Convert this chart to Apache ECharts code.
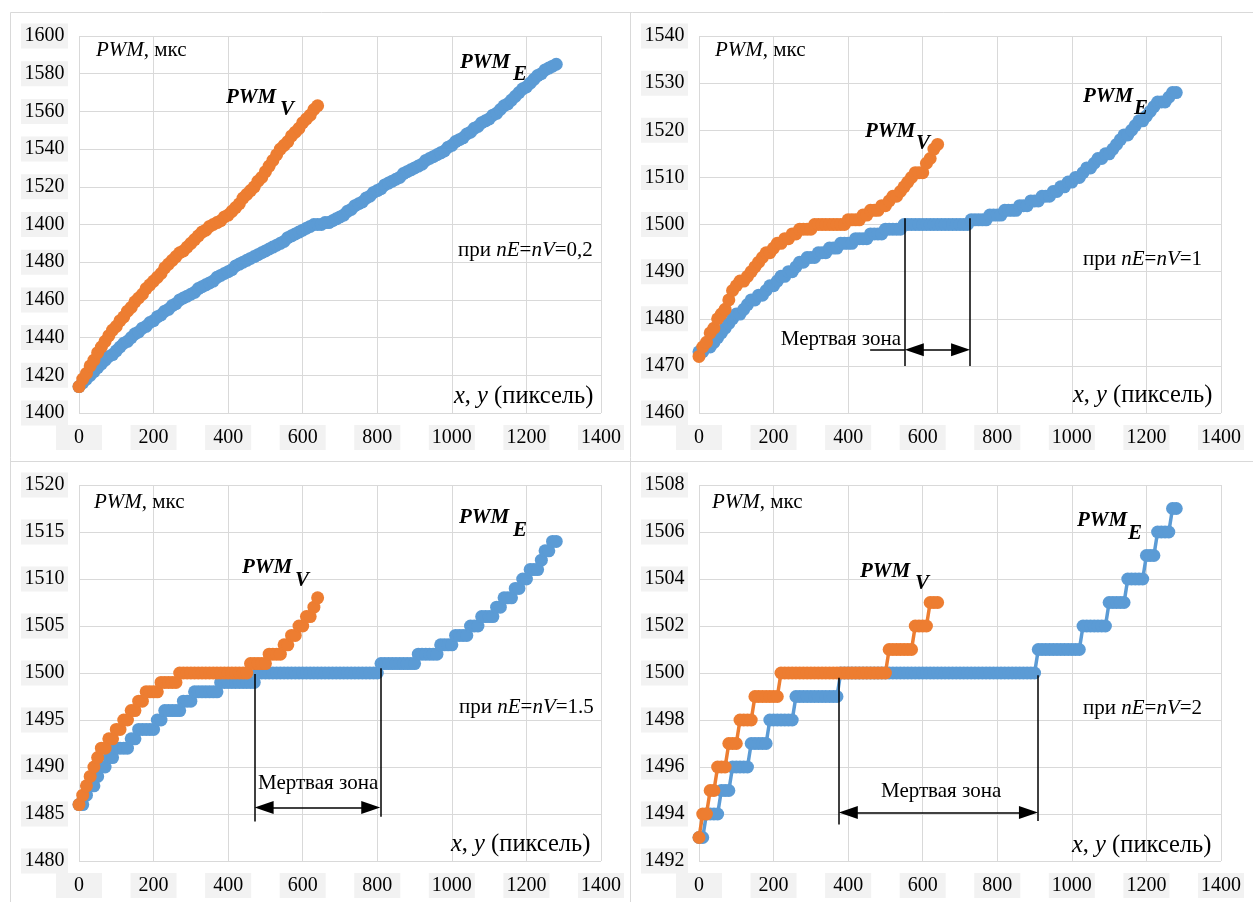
<!DOCTYPE html>
<html><head><meta charset="utf-8">
<script src="https://cdn.jsdelivr.net/npm/echarts/dist/echarts.min.js"></script>
<style>html,body{margin:0;padding:0;background:#fff}#c{width:1253px;height:902px}</style>
</head><body><div id="c"></div><script>
// ---------- sample positions ----------
const xE10 = [0,10,20,30,40,50,60,70,80,90,
100,110,120,130,140,150,160,170,180,190,
200,210,220,230,240,250,260,270,280,290,
300,310,320,330,340,350,360,370,380,390,
400,410,420,430,440,450,460,470,480,490,
500,510,520,530,540,550,560,570,580,590,
600,610,620,630,640,650,660,670,680,690,
700,710,720,730,740,750,760,770,780,790,
800,810,820,830,840,850,860,870,880,890,
900,910,920,930,940,950,960,970,980,990,
1000,1010,1020,1030,1040,1050,1060,1070,1080,1090,
1100,1110,1120,1130,1140,1150,1160,1170,1180,1190,
1200,1210,1220,1230,1240,1250,1260,1270,1280];
const xV10 = [0,10,20,30,40,50,60,70,80,90,
100,110,120,130,140,150,160,170,180,190,
200,210,220,230,240,250,260,270,280,290,
300,310,320,330,340,350,360,370,380,390,
400,410,420,430,440,450,460,470,480,490,
500,510,520,530,540,550,560,570,580,590,
600,610,620,630,640];

// ---------- panel 1: nE=nV=0,2 ----------
const pwmE1 = [1414,1416,1418,1420,1422,1424,1426,1428,1430,1431,
1433,1435,1437,1438,1440,1442,1443,1445,1446,1448,
1449,1451,1452,1454,1455,1457,1458,1460,1461,1462,
1463,1464,1466,1467,1468,1469,1470,1472,1473,1474,
1475,1476,1478,1479,1480,1481,1482,1483,1484,1485,
1486,1487,1488,1489,1490,1491,1493,1494,1495,1496,
1497,1498,1499,1500,1500,1500,1501,1501,1502,1503,
1504,1505,1507,1508,1510,1511,1512,1514,1515,1517,
1518,1519,1521,1522,1523,1524,1525,1527,1528,1529,
1530,1531,1532,1534,1535,1536,1537,1538,1539,1541,
1542,1544,1545,1546,1548,1549,1551,1552,1554,1555,
1556,1558,1559,1561,1563,1564,1566,1568,1570,1572,
1573,1575,1577,1579,1580,1582,1583,1584,1585];
const pwmV1 = [1414,1418,1421,1425,1428,1432,1435,1438,1441,1444,
1446,1449,1451,1454,1456,1459,1461,1463,1466,1468,
1470,1472,1474,1477,1479,1481,1483,1485,1486,1488,
1490,1492,1494,1496,1497,1499,1500,1501,1502,1504,
1505,1507,1509,1511,1514,1516,1518,1520,1523,1525,
1528,1531,1534,1537,1540,1542,1544,1547,1549,1551,
1554,1556,1558,1561,1563];

// ---------- panel 2: nE=nV=1 ----------
const pwmE2 = [1473,1473,1474,1474,1475,1476,1477,1478,1479,1480,
1481,1481,1482,1483,1484,1484,1485,1485,1486,1487,
1487,1488,1489,1489,1490,1490,1491,1492,1492,1493,
1493,1493,1494,1494,1494,1495,1495,1495,1496,1496,
1496,1496,1497,1497,1497,1497,1498,1498,1498,1498,
1499,1499,1499,1499,1499,1500,1500,1500,1500,1500,
1500,1500,1500,1500,1500,1500,1500,1500,1500,1500,
1500,1500,1500,1501,1501,1501,1501,1501,1502,1502,
1502,1502,1503,1503,1503,1503,1504,1504,1504,1505,
1505,1505,1506,1506,1506,1507,1507,1508,1508,1509,
1509,1510,1510,1511,1512,1512,1513,1514,1514,1515,
1515,1516,1517,1518,1519,1519,1520,1521,1522,1522,
1523,1524,1525,1526,1526,1526,1527,1528,1528];
const pwmV2 = [1472,1474,1475,1477,1478,1480,1481,1482,1484,1486,
1487,1488,1488,1489,1490,1491,1492,1493,1494,1494,
1495,1496,1496,1497,1497,1498,1498,1499,1499,1499,
1499,1500,1500,1500,1500,1500,1500,1500,1500,1500,
1501,1501,1501,1501,1502,1502,1503,1503,1503,1504,
1504,1505,1506,1506,1507,1508,1509,1510,1511,1511,
1511,1513,1514,1516,1517];

// ---------- panel 3: nE=nV=1.5 ----------
const pwmE3 = [1486,1486,1487,1488,1488,1489,1490,1490,1491,1491,
1492,1492,1492,1492,1493,1493,1494,1494,1494,1494,
1494,1495,1495,1496,1496,1496,1496,1496,1497,1497,
1497,1498,1498,1498,1498,1498,1498,1498,1499,1499,
1499,1499,1499,1499,1499,1499,1499,1499,1500,1500,
1500,1500,1500,1500,1500,1500,1500,1500,1500,1500,
1500,1500,1500,1500,1500,1500,1500,1500,1500,1500,
1500,1500,1500,1500,1500,1500,1500,1500,1500,1500,
1500,1501,1501,1501,1501,1501,1501,1501,1501,1501,
1501,1502,1502,1502,1502,1502,1502,1503,1503,1503,
1503,1504,1504,1504,1504,1505,1505,1505,1506,1506,
1506,1506,1507,1507,1508,1508,1508,1509,1509,1510,
1510,1511,1511,1511,1512,1513,1513,1514,1514];
const pwmV3 = [1486,1487,1488,1489,1490,1491,1492,1492,1493,1493,
1494,1494,1495,1495,1496,1496,1497,1497,1498,1498,
1498,1498,1499,1499,1499,1499,1499,1500,1500,1500,
1500,1500,1500,1500,1500,1500,1500,1500,1500,1500,
1500,1500,1500,1500,1500,1500,1501,1501,1501,1501,
1501,1502,1502,1502,1502,1503,1503,1504,1504,1505,
1505,1506,1506,1507,1508];

// ---------- panel 4: nE=nV=2 ----------
const pwmE4 = [1493,1493,1494,1494,1494,1494,1495,1495,1495,1496,
1496,1496,1496,1496,1497,1497,1497,1497,1497,1498,
1498,1498,1498,1498,1498,1498,1499,1499,1499,1499,
1499,1499,1499,1499,1499,1499,1499,1499,1500,1500,
1500,1500,1500,1500,1500,1500,1500,1500,1500,1500,
1500,1500,1500,1500,1500,1500,1500,1500,1500,1500,
1500,1500,1500,1500,1500,1500,1500,1500,1500,1500,
1500,1500,1500,1500,1500,1500,1500,1500,1500,1500,
1500,1500,1500,1500,1500,1500,1500,1500,1500,1500,
1500,1501,1501,1501,1501,1501,1501,1501,1501,1501,
1501,1501,1501,1502,1502,1502,1502,1502,1502,1502,
1503,1503,1503,1503,1503,1504,1504,1504,1504,1504,
1505,1505,1505,1506,1506,1506,1506,1507,1507];
const pwmV4 = [1493,1494,1494,1495,1495,1496,1496,1496,1497,1497,
1497,1498,1498,1498,1498,1499,1499,1499,1499,1499,
1499,1499,1500,1500,1500,1500,1500,1500,1500,1500,
1500,1500,1500,1500,1500,1500,1500,1500,1500,1500,
1500,1500,1500,1500,1500,1500,1500,1500,1500,1500,
1500,1501,1501,1501,1501,1501,1501,1501,1502,1502,
1502,1502,1503,1503,1503];

// ---------- tick labels ----------
const xTicks = ['0','200','400','600','800','1000','1200','1400'];
const yTicks1 = ['1400','1420','1440','1460','1480','1400','1520','1540','1560','1580','1600'];
const yTicks2 = ['1460','1470','1480','1490','1500','1510','1520','1530','1540'];
const yTicks3 = ['1480','1485','1490','1495','1500','1505','1510','1515','1520'];
const yTicks4 = ['1492','1494','1496','1498','1500','1502','1504','1506','1508'];

// ---------- dead zone annotations (data units) ----------
const dead2 = {xl:552, xr:727, topL:1501.3, topR:1501.3, botL:1470, botR:1470, arrowY:1473.4, leaderFrom:459};
const dead3 = {xl:471, xr:808, topL:1499.9, topR:1500.5, botL:1484.2, botR:1484.7, arrowY:1485.7};
const dead4 = {xl:375, xr:909, topL:1499.8, topR:1499.9, botL:1493.55, botR:1493.7, arrowY:1494.06};

// ---------- build ----------
const BLUE = '#5b9bd5', ORANGE = '#ed7d31', GRIDC = '#d9d9d9';
const FONT = '"Liberation Serif", "Times New Roman", serif';
const pairs = (xs, ys) => xs.map((x, i) => [x, ys[i]]);

const panels = [
  {grid:{left:79, top:36, width:522, height:377}, y:[1400,1600,20], yt:yTicks1, xe:xE10, xv:xV10, e:pwmE1, v:pwmV1, dead:null},
  {grid:{left:699, top:36, width:522, height:377}, y:[1460,1540,10], yt:yTicks2, xe:xE10, xv:xV10, e:pwmE2, v:pwmV2, dead:dead2},
  {grid:{left:79, top:485, width:522, height:376}, y:[1480,1520,5], yt:yTicks3, xe:xE10, xv:xV10, e:pwmE3, v:pwmV3, dead:dead3},
  {grid:{left:699, top:485, width:522, height:376}, y:[1492,1508,2], yt:yTicks4, xe:xE10, xv:xV10, e:pwmE4, v:pwmV4, dead:dead4}
];

const labelBase = {fontFamily: FONT, fontSize: 20, lineHeight: 20, color: '#000', backgroundColor: '#f2f2f2'};
const grid = [], xAxis = [], yAxis = [], series = [];
const pxPerUnitX = 522 / 1400;
panels.forEach((p, i) => {
  grid.push(p.grid);
  xAxis.push({type:'value', gridIndex:i, min:0, max:1400, interval:200,
    axisLine:{show:false}, axisTick:{show:false},
    splitLine:{show:true, lineStyle:{color:GRIDC, width:1}},
    axisLabel:Object.assign({}, labelBase, {margin:12, width:40, align:'center', padding:[3,3,2,3],
      formatter:(val) => xTicks[Math.round(val / 200)]})
  });
  const [mn, mx, iv] = p.y;
  yAxis.push({type:'value', gridIndex:i, min:mn, max:mx, interval:iv,
    axisLine:{show:false}, axisTick:{show:false},
    splitLine:{show:true, lineStyle:{color:GRIDC, width:1}},
    axisLabel:Object.assign({}, labelBase, {margin:11, padding:[3,3.5,2,3.5],
      formatter:(val) => p.yt[Math.round((val - mn) / iv)]})
  });
  series.push({type:'line', name:'PWM_E', xAxisIndex:i, yAxisIndex:i, data:pairs(p.xe, p.e),
    symbol:'circle', symbolSize:13, showAllSymbol:true, silent:true, animation:false,
    lineStyle:{width:3.5, color:BLUE}, itemStyle:{color:BLUE}, z:2});
  series.push({type:'line', name:'PWM_V', xAxisIndex:i, yAxisIndex:i, data:pairs(p.xv, p.v),
    symbol:'circle', symbolSize:13, showAllSymbol:true, silent:true, animation:false,
    lineStyle:{width:3.5, color:ORANGE}, itemStyle:{color:ORANGE}, z:3});
  if (p.dead) {
    const d = p.dead;
    const inset = 9.5 / pxPerUnitX;
    const ml = [
      [{coord:[d.xl, d.topL]}, {coord:[d.xl, d.botL]}],
      [{coord:[d.xr, d.topR]}, {coord:[d.xr, d.botR]}],
      [{coord:[d.xl + inset, d.arrowY], symbol:'triangle', symbolSize:[13,19]},
       {coord:[d.xr - inset, d.arrowY], symbol:'triangle', symbolSize:[13,19]}]
    ];
    if (d.leaderFrom != null) ml.push([{coord:[d.leaderFrom, d.arrowY]}, {coord:[d.xl, d.arrowY]}]);
    series.push({type:'line', xAxisIndex:i, yAxisIndex:i, data:[], silent:true, animation:false, z:5,
      markLine:{silent:true, animation:false, symbol:['none','none'], label:{show:false},
        lineStyle:{color:'#000', width:1.5, type:'solid'}, emphasis:{disabled:true}, data:ml}});
  }
});

// ---------- text ----------
const rich = {
  i:{fontFamily:FONT, fontStyle:'italic', fontSize:21, fill:'#000'},
  n:{fontFamily:FONT, fontSize:21, fill:'#000'},
  I:{fontFamily:FONT, fontStyle:'italic', fontSize:24.5, fill:'#000'},
  N:{fontFamily:FONT, fontSize:24.5, fill:'#000'}
};
function rtext(x, y, text, align) {
  return {type:'text', x:x, y:y, silent:true, z:10,
    style:{text:text, rich:rich, align:align || 'left', verticalAlign:'middle', fill:'#000', fontFamily:FONT, fontSize:21}};
}
function btext(x, y, text) {
  return {type:'text', x:x, y:y, silent:true, z:10,
    style:{text:text, font:'italic bold 21px "Liberation Serif", serif', fill:'#000', verticalAlign:'middle', align:'left'}};
}
const texts = [
  {x:96, y:50}, {x:715, y:50}, {x:94, y:502}, {x:712, y:502}
].map(t => rtext(t.x, t.y, '{i|PWM}{n|, мкс}'));
const labelsPWM = [
  [226,98,280,110, 460,63,513,75],
  [865,132,916,144, 1083,97,1134,109],
  [242,568,295,581, 459,518,513,531],
  [860,572,915,584, 1077,521,1128,534]
];
labelsPWM.forEach(a => {
  texts.push(btext(a[0], a[1], 'PWM'), btext(a[2], a[3], 'V'), btext(a[4], a[5], 'PWM'), btext(a[6], a[7], 'E'));
});
texts.push(rtext(458, 250, '{n|при }{i|nE}{n|=}{i|nV}{n|=0,2}'));
texts.push(rtext(1083, 259, '{n|при }{i|nE}{n|=}{i|nV}{n|=1}'));
texts.push(rtext(459, 707, '{n|при }{i|nE}{n|=}{i|nV}{n|=1.5}'));
texts.push(rtext(1083, 708, '{n|при }{i|nE}{n|=}{i|nV}{n|=2}'));
[[454,397],[1073,396],[451,845],[1072,846]].forEach(a => texts.push(rtext(a[0], a[1], '{I|x}{N|, }{I|y}{N| (пиксель)}')));
texts.push(rtext(901, 339, '{n|Мертвая зона}', 'right'));
texts.push(rtext(258, 783, '{n|Мертвая зона}'));
texts.push(rtext(881, 791, '{n|Мертвая зона}'));

const frames = [
  {type:'rect', silent:true, z:0, shape:{x:10.5, y:12.5, width:1260, height:910}, style:{fill:'none', stroke:GRIDC, lineWidth:1}},
  {type:'line', silent:true, z:0, shape:{x1:630.5, y1:12, x2:630.5, y2:910}, style:{stroke:GRIDC, lineWidth:1}},
  {type:'line', silent:true, z:0, shape:{x1:10, y1:461.5, x2:1260, y2:461.5}, style:{stroke:GRIDC, lineWidth:1}}
];

const chart = echarts.init(document.getElementById('c'), null, {renderer:'canvas'});
chart.setOption({
  animation:false,
  backgroundColor:'#ffffff',
  grid, xAxis, yAxis, series,
  graphic: frames.concat(texts)
});
</script></body></html>
